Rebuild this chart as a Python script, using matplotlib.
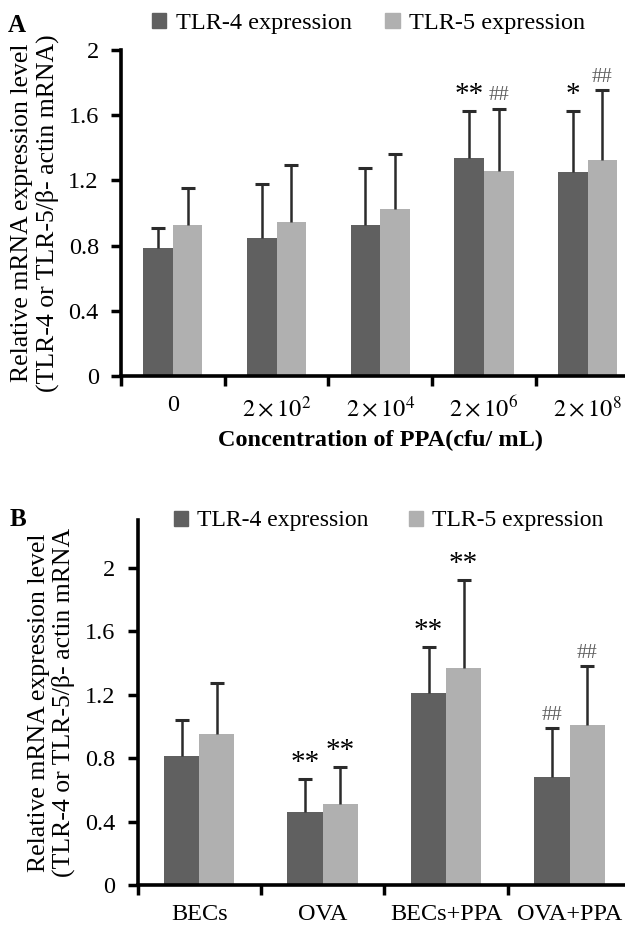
import matplotlib
matplotlib.use('Agg')
import matplotlib.pyplot as plt
from matplotlib.patches import Patch
import numpy as np

plt.rcParams['font.family'] = ['Liberation Serif', 'DejaVu Serif']
plt.rcParams['mathtext.fontset'] = 'stix'

# panel A
conc = ['0', r'$2\times10^{2}$', r'$2\times10^{4}$', r'$2\times10^{6}$', r'$2\times10^{8}$']
tlr4_a = [0.785, 0.845, 0.925, 1.335, 1.25]
tlr4_a_err = [0.125, 0.33, 0.35, 0.29, 0.375]
tlr5_a = [0.925, 0.945, 1.025, 1.255, 1.325]
tlr5_a_err = [0.23, 0.35, 0.335, 0.385, 0.43]
marks4_a = ['', '', '', '**', '*']
marks5_a = ['', '', '', '##', '##']

# panel B
groups = ['BECs', 'OVA', 'BECs+PPA', 'OVA+PPA']
tlr4_b = [0.81, 0.46, 1.21, 0.68]
tlr4_b_err = [0.23, 0.21, 0.29, 0.31]
tlr5_b = [0.95, 0.51, 1.37, 1.01]
tlr5_b_err = [0.32, 0.235, 0.55, 0.37]
marks4_b = ['', '**', '**', '##']
marks5_b = ['', '**', '**', '##']

dark = '#606060'
light = '#b0b0b0'
ecol = '#2b2b2b'
w = 0.285
fs = 17.5

fig = plt.figure(figsize=(6.25, 9.27), dpi=100)


def panel(ax, labels, v4, e4, v5, e5, m4, m5, ymax):
    n = len(labels)
    x = np.arange(n) + 0.5
    ax.bar(x - w/2, v4, w, color=dark, zorder=2)
    ax.bar(x + w/2, v5, w, color=light, zorder=2)
    for xs, vals, errs, marks in [(x - w/2, v4, e4, m4), (x + w/2, v5, e5, m5)]:
        tops = np.array(vals) + np.array(errs)
        # upper half error bar only, cap on top
        ax.vlines(xs, vals, tops, color=ecol, lw=1.8, zorder=3)
        ax.plot(xs, tops, ls='none', marker='_', ms=10, mew=2.2, color=ecol, zorder=3)
        for xi, t, m in zip(xs, tops, marks):
            if m:
                star = m.startswith('*')
                ax.text(xi, t + 0.02, m, ha='center', va='bottom',
                        fontsize=21 if star else 15, color='black' if star else '#606060')
    ax.set_xlim(0, n)
    ax.set_ylim(0, ymax)
    ax.set_yticks([0, 0.4, 0.8, 1.2, 1.6, 2])
    ax.set_yticklabels(['0', '0.4', '0.8', '1.2', '1.6', '2'], fontsize=fs)
    ax.set_xticks(np.arange(n + 1))
    ax.set_xticklabels([])
    ax.set_xticks(x, minor=True)
    ax.set_xticklabels(labels, minor=True, fontsize=fs)
    ax.tick_params(axis='x', which='minor', length=0, pad=14)
    ax.tick_params(axis='y', which='major', pad=9)
    ax.tick_params(axis='both', which='major', length=7, width=2.5, direction='out')
    for s in ['top', 'right']:
        ax.spines[s].set_visible(False)
    for s in ['left', 'bottom']:
        ax.spines[s].set_linewidth(2.6)


handles = [Patch(color=dark, label='TLR-4 expression'), Patch(color=light, label='TLR-5 expression')]

# A
axA = fig.add_axes([0.1936, 0.5944, 0.8296, 0.3517])
panel(axA, conc, tlr4_a, tlr4_a_err, tlr5_a, tlr5_a_err, marks4_a, marks5_a, 2.0)
axA.set_xlabel('Concentration of PPA(cfu/ mL)', fontsize=17.5, fontweight='bold', labelpad=6)
axA.set_ylabel('Relative mRNA expression level\n(TLR-4 or TLR-5/β- actin mRNA)', fontsize=18.5,
               linespacing=1.1, labelpad=7)
fig.text(0.013, 0.973, 'A', fontsize=18, fontweight='bold', va='center')
axA.legend(handles=handles, loc='center left', bbox_to_anchor=(0.243, 0.975),
           bbox_transform=fig.transFigure, ncol=2, frameon=False, fontsize=17.5,
           handlelength=0.6, handleheight=0.6, handletextpad=0.4, columnspacing=1.35,
           borderpad=0, borderaxespad=0)

# B
axB = fig.add_axes([0.22, 0.0453, 0.79, 0.3937])
panel(axB, groups, tlr4_b, tlr4_b_err, tlr5_b, tlr5_b_err, marks4_b, marks5_b, 2.3)
axB.set_ylabel('Relative mRNA expression level\n(TLR-4 or TLR-5/β- actin mRNA', fontsize=18.5,
               linespacing=1.1, labelpad=7)
fig.text(0.016, 0.44, 'B', fontsize=18, fontweight='bold', va='center')
axB.legend(handles=handles, loc='center left', bbox_to_anchor=(0.278, 0.438),
           bbox_transform=fig.transFigure, ncol=2, frameon=False, fontsize=17,
           handlelength=0.6, handleheight=0.6, handletextpad=0.4, columnspacing=1.7,
           borderpad=0, borderaxespad=0)

fig.savefig('out.png', dpi=100)
